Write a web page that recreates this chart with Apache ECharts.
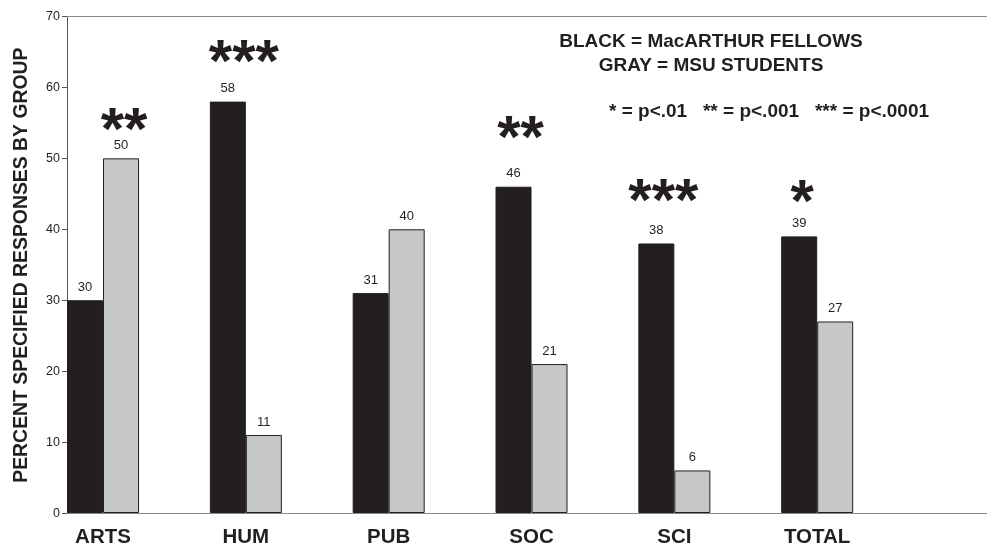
<!DOCTYPE html>
<html>
<head>
<meta charset="utf-8">
<script src="https://cdn.jsdelivr.net/npm/echarts@6/dist/echarts.min.js"></script>
<style>
  html, body { margin: 0; padding: 0; background: #fff; }
  #chart { width: 987px; height: 548px; }
</style>
</head>
<body>
<div id="chart"></div>
<script>
// Field groups along the x axis
var categories = ['ARTS', 'HUM', 'PUB', 'SOC', 'SCI', 'TOTAL'];
// Percent of specified responses per group
var fellowsValues = [30, 58, 31, 46, 38, 39];   // MacArthur Fellows (black)
var studentsValues = [50, 11, 40, 21, 6, 27];   // MSU students (gray)
// Significance marks shown above the taller bar of each pair
var significance = ['**', '***', '', '**', '***', '*'];
// Y axis range
var yMin = 0, yMax = 70, yStep = 10;

var INK = '#231f20';
var GRAY_FILL = '#c6c7c9';
var FONT = 'Liberation Sans, Arial, Helvetica, sans-serif';

// Hand placement of the significance marks: [shift right, shift down] in px
var starNudge = { ARTS: [3, 11], HUM: [16, 0], PUB: [0, 0], SOC: [7, -9], SCI: [7, -3], TOTAL: [3, 5] };
var STAR_LINE = 34;

// Top/bottom of the plotting frame (shared by both grids)
var frameTop = 16.5, frameBottom = 34.3;

function barData(values, other) {
  return values.map(function (v, i) {
    var stars = significance[i];
    var taller = v >= other[i];
    if (!(stars && taller)) {
      return { value: v, label: { formatter: '{v|{c}}' } };
    }
    var nudge = starNudge[categories[i]];
    return {
      value: v,
      label: {
        formatter: '{s|' + stars + '}\n{v|{c}}',
        rich: {
          s: {
            fontFamily: FONT, fontWeight: 'bold', fontSize: 60, color: INK,
            lineHeight: STAR_LINE - 2 * nudge[1],
            padding: [0, 0, 0, 2 * nudge[0]]
          },
          v: { fontFamily: FONT, fontSize: 13, color: INK, lineHeight: 14 }
        }
      }
    };
  });
}

var labelStyle = {
  show: true,
  position: 'top',
  distance: 6,
  rich: {
    s: { fontFamily: FONT, fontWeight: 'bold', fontSize: 60, color: INK, lineHeight: STAR_LINE },
    v: { fontFamily: FONT, fontSize: 13, color: INK, lineHeight: 14 }
  }
};

var chart = echarts.init(document.getElementById('chart'), null, { renderer: 'canvas' });

chart.setOption({
  animation: false,
  backgroundColor: '#ffffff',
  grid: [
    // frame grid: y axis, baseline and top rule
    { left: 67, right: 0, top: frameTop, bottom: frameBottom },
    // bar grid: category bands of equal width
    { left: 31.6, right: 98.4, top: frameTop, bottom: frameBottom }
  ],
  xAxis: [
    {
      gridIndex: 0, type: 'value', min: 0, max: 1, position: 'bottom',
      axisLine: { show: true, lineStyle: { color: '#8a8a8a', width: 1 } },
      axisTick: { show: false }, axisLabel: { show: false }, splitLine: { show: false }
    },
    {
      gridIndex: 0, type: 'value', min: 0, max: 1, position: 'top',
      axisLine: { show: true, lineStyle: { color: '#8a8a8a', width: 1 } },
      axisTick: { show: false }, axisLabel: { show: false }, splitLine: { show: false }
    },
    {
      gridIndex: 1, type: 'category', data: categories,
      axisLine: { show: false }, axisTick: { show: false },
      axisLabel: { fontFamily: FONT, fontWeight: 'bold', fontSize: 20.5, color: INK, margin: 14 }
    }
  ],
  yAxis: [
    {
      gridIndex: 0, type: 'value', min: yMin, max: yMax, interval: yStep,
      name: 'PERCENT SPECIFIED RESPONSES BY GROUP',
      nameLocation: 'middle', nameGap: 36, nameRotate: 90,
      nameTextStyle: { fontFamily: FONT, fontWeight: 'bold', fontSize: 19.4, color: INK },
      axisLine: { show: true, lineStyle: { color: '#555', width: 1 } },
      axisTick: { show: true, length: 5, lineStyle: { color: '#555' } },
      axisLabel: { fontFamily: FONT, fontSize: 12.5, color: INK, margin: 7 },
      splitLine: { show: false }
    },
    {
      gridIndex: 1, type: 'value', min: yMin, max: yMax, interval: yStep, show: false
    }
  ],
  series: [
    {
      name: 'MacARTHUR FELLOWS', type: 'bar', xAxisIndex: 2, yAxisIndex: 1,
      barWidth: 36, barGap: '0%',
      itemStyle: { color: INK, borderColor: INK, borderWidth: 1 },
      label: labelStyle,
      data: barData(fellowsValues, studentsValues)
    },
    {
      name: 'MSU STUDENTS', type: 'bar', xAxisIndex: 2, yAxisIndex: 1,
      barWidth: 36, barGap: '0%',
      itemStyle: { color: GRAY_FILL, borderColor: INK, borderWidth: 1 },
      label: labelStyle,
      data: barData(studentsValues, fellowsValues)
    }
  ],
  graphic: [
    {
      type: 'text', x: 711, y: 42,
      style: { text: 'BLACK = MacARTHUR FELLOWS', fontFamily: FONT, fontWeight: 'bold', fontSize: 19, fill: INK, align: 'center', verticalAlign: 'middle' }
    },
    {
      type: 'text', x: 711, y: 66,
      style: { text: 'GRAY = MSU STUDENTS', fontFamily: FONT, fontWeight: 'bold', fontSize: 19, fill: INK, align: 'center', verticalAlign: 'middle' }
    },
    {
      type: 'text', x: 769, y: 112,
      style: { text: '* = p<.01   ** = p<.001   *** = p<.0001', fontFamily: FONT, fontWeight: 'bold', fontSize: 19, fill: INK, align: 'center', verticalAlign: 'middle' }
    }
  ]
});
</script>
</body>
</html>
